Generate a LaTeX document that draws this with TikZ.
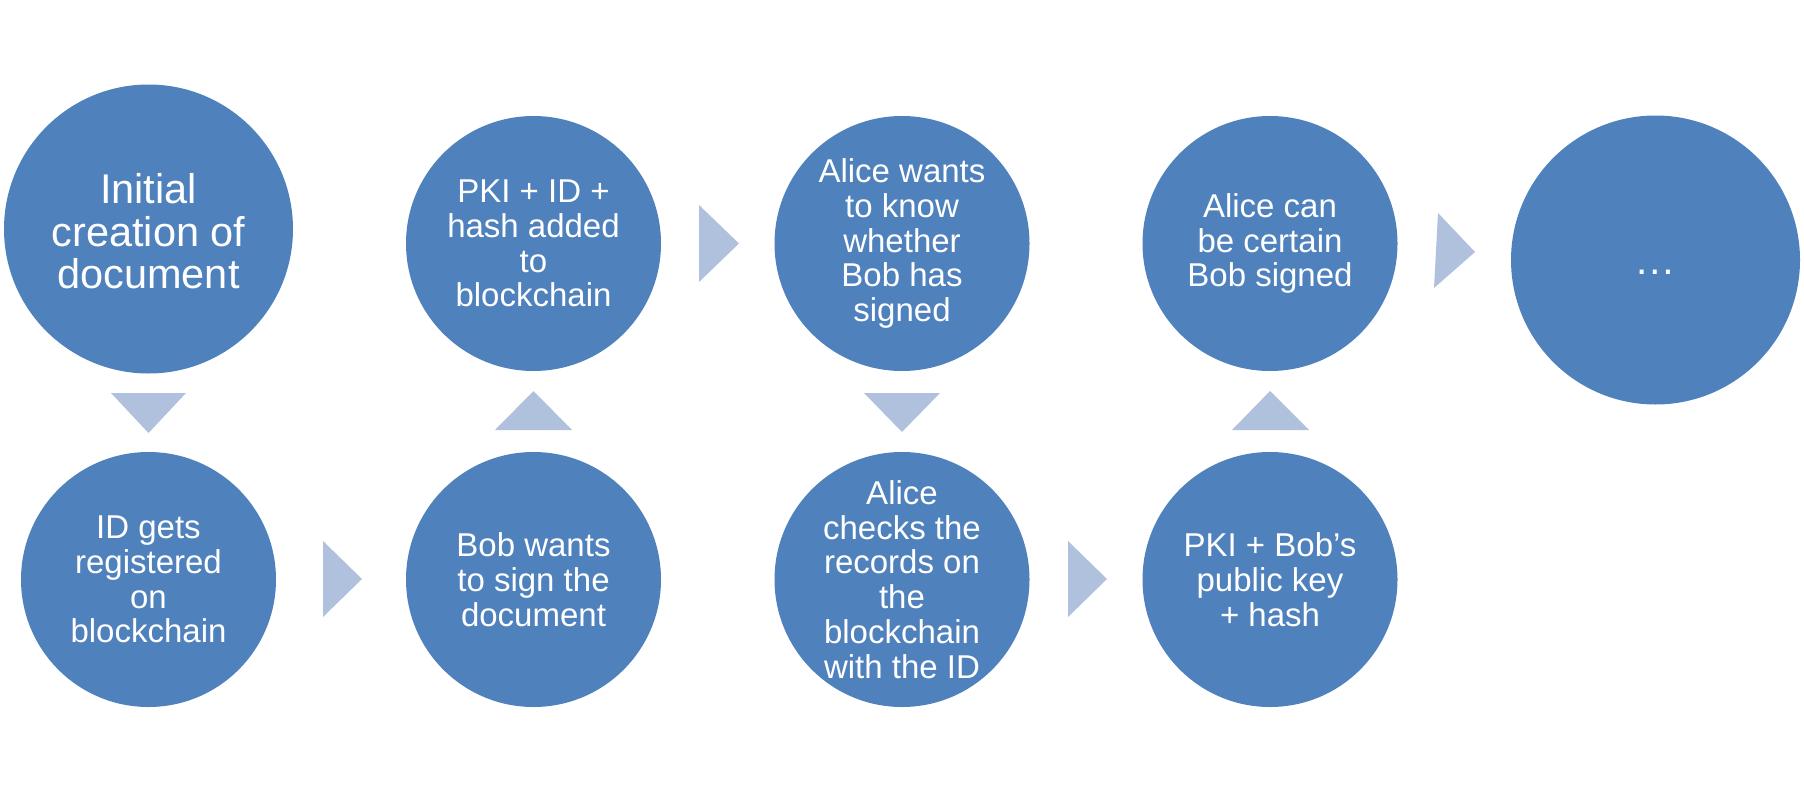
\documentclass[tikz,border=0pt]{standalone}
\usepackage{fontspec}
\setmainfont{Liberation Sans}
\definecolor{circblue}{RGB}{79,129,189}
\definecolor{triblue}{RGB}{176,193,221}
\begin{document}
\begin{tikzpicture}[x=1pt,y=-1pt,
  circ/.style={circle,fill=circblue,inner sep=0pt,minimum size=255pt},
  bigcirc/.style={circle,fill=circblue,inner sep=0pt,minimum size=289pt},
  lbl/.style={text=white,align=center,font=\fontsize{33}{34.7}\selectfont,inner sep=0pt},
  biglbl/.style={text=white,align=center,font=\fontsize{41.5}{42.5}\selectfont,inner sep=0pt},
  tri/.style={fill=triblue}]
\useasboundingbox (0,0) rectangle (1804,790);

% circles
\node[bigcirc] (c1) at (148.5,229) {};
\node[circ] (c2) at (148.5,579.5) {};
\node[circ] (c3) at (533.5,579.5) {};
\node[circ] (c4) at (533.5,243.5) {};
\node[circ] (c5) at (902,243.5) {};
\node[circ] (c6) at (902,579.5) {};
\node[circ] (c7) at (1270,579.5) {};
\node[circ] (c8) at (1270,243.5) {};
\node[bigcirc] (c9) at (1655.5,260) {};

% texts
\node[biglbl] (t1) at ([yshift=-2.5pt]c1.center) {Initial\\creation of\\document};
\node[lbl] (t2) at (c2) {ID gets\\registered\\on\\blockchain};
\node[lbl] (t3) at (c3) {Bob wants\\to sign the\\document};
\node[lbl] (t4) at (c4) {PKI + ID +\\hash added\\to\\blockchain};
\node[lbl] (t5) at (c5) {Alice wants\\to know\\whether\\Bob has\\signed};
\node[lbl] (t6) at (c6) {Alice\\checks the\\records on\\the\\blockchain\\with the ID};
\node[lbl] (t7) at (c7) {PKI + Bob’s\\public key\\+ hash};
\node[lbl] (t8) at (c8) {Alice can\\be certain\\Bob signed};
\node[biglbl] (t9) at ([yshift=-5pt]c9.center) {\vphantom{Ag}…};

% triangles
\fill[tri] (111,393) -- (186,393) -- (148.5,433) -- cycle;
\fill[tri] (323,541) -- (323,617) -- (362,579) -- cycle;
\fill[tri] (495,430) -- (572,430) -- (533.5,391) -- cycle;
\fill[tri] (699,205) -- (699,282) -- (739,243.5) -- cycle;
\fill[tri] (864,393) -- (940,393) -- (902,432) -- cycle;
\fill[tri] (1068,541) -- (1068,617) -- (1107,579) -- cycle;
\fill[tri] (1232,430) -- (1309,430) -- (1270,391) -- cycle;
\fill[tri] (1438,213) -- (1434,288) -- (1475,252) -- cycle;
\end{tikzpicture}
\end{document}
